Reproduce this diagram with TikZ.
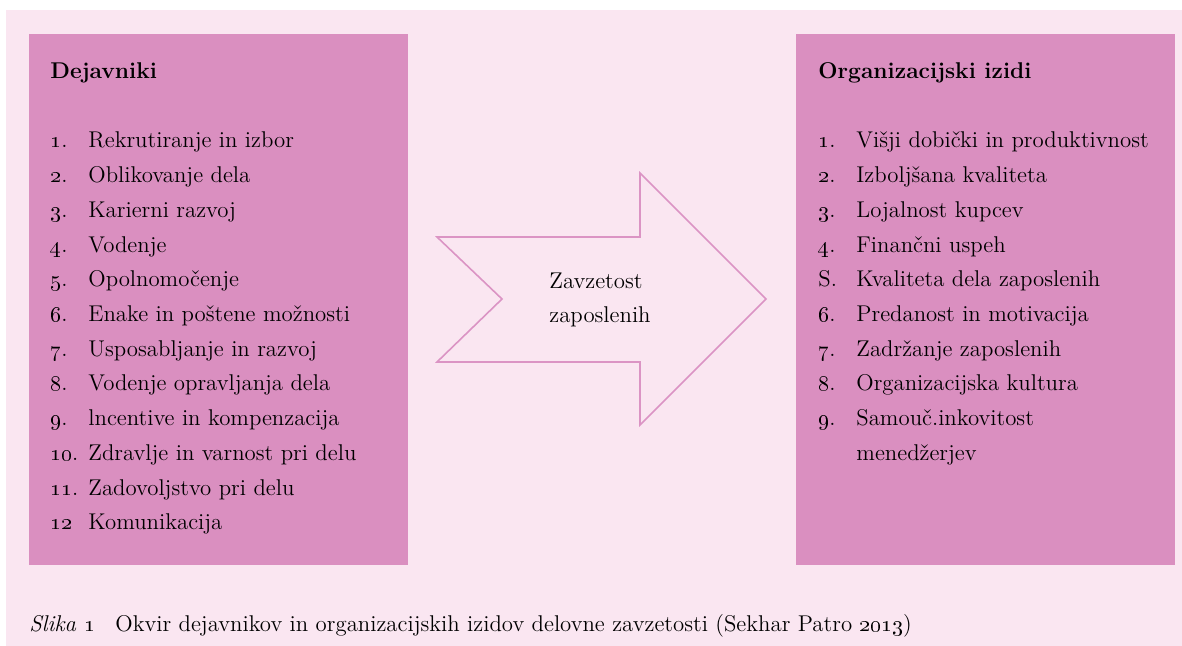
\documentclass[tikz,border=0pt]{standalone}
\usetikzlibrary{positioning}
\definecolor{panelpink}{HTML}{FAE6F1}
\definecolor{boxpink}{HTML}{DA8FC0}
\definecolor{arrowpink}{HTML}{DB94C4}
\newcommand{\itemrow}[2]{\makebox[19pt][l]{#1}#2}
\newcommand{\osn}[1]{\oldstylenums{#1}}
\begin{document}
\begin{tikzpicture}[x=0.5pt, y=-0.5pt, font=\fontsize{11.4}{17.35}\selectfont,
    box/.style = {fill=boxpink, rectangle, inner sep=0pt, anchor=north west,
                  minimum width=189.5pt, minimum height=265.5pt},
    heading/.style = {anchor=base west, inner sep=0pt, font=\fontsize{11.4}{17.35}\selectfont\bfseries},
    entry/.style = {anchor=base west, inner sep=0pt}]
    \useasboundingbox (0,0) rectangle (1182,646);
    \fill[panelpink] (6,10) rectangle (1182,646);

    % the two boxes
    \node[box] (factors) at (29,34) {};
    \node[box] (outcomes) at (796,34) {};

    \node[heading] (dtitle) at (50,79) {Dejavniki};
    \node[heading] (otitle) at (818,79) {Organizacijski izidi};

    % left list
    \foreach \n/\t [count=\i] in {\osn{1}./Rekrutiranje in izbor, \osn{2}./Oblikovanje dela,
        \osn{3}./Karierni razvoj, \osn{4}./Vodenje, \osn{5}./Opolnomočenje,
        \osn{6}./Enake in poštene možnosti, \osn{7}./Usposabljanje in razvoj,
        \osn{8}./Vodenje opravljanja dela, \osn{9}./lncentive in kompenzacija,
        \osn{10}./Zdravlje in varnost pri delu, \osn{11}./Zadovoljstvo pri delu,
        \osn{12}/Komunikacija}
        \node[entry] (d\i) at (50,{148+34.7*(\i-1)}) {\itemrow{\n}{\t}};

    % right list
    \foreach \n/\t [count=\i] in {\osn{1}./Višji dobički in produktivnost,
        \osn{2}./Izboljšana kvaliteta, \osn{3}./Lojalnost kupcev, \osn{4}./Finančni uspeh,
        S./Kvaliteta dela zaposlenih, \osn{6}./Predanost in motivacija,
        \osn{7}./Zadržanje zaposlenih, \osn{8}./Organizacijska kultura}
        \node[entry] (o\i) at (818,{148+34.7*(\i-1)}) {\itemrow{\n}{\t}};
    \node[entry] (o9) at (818,{148+34.7*8}) {\itemrow{\osn{9}.}{\begin{tabular}[t]{@{}l@{}}Samouč.inkovitost\\ menedžerjev\end{tabular}}};

    % arrow in the middle
    \draw[arrowpink, line width=0.8pt, fill=panelpink, line join=miter]
        (437,237) -- (640,237) -- (640,173) -- (766,299) -- (640,425)
        -- (640,362) -- (437,362) -- (502,299) -- cycle;
    \node[entry, align=left] (engage) at (549,323) {Zavzetost\\zaposlenih};

    % caption
    \node[entry] (caption) at (29,631) {\makebox[43pt][l]{\textit{Slika \osn{1}}}Okvir dejavnikov in organizacijskih izidov delovne zavzetosti (Sekhar Patro \osn{2013})};
\end{tikzpicture}
\end{document}
